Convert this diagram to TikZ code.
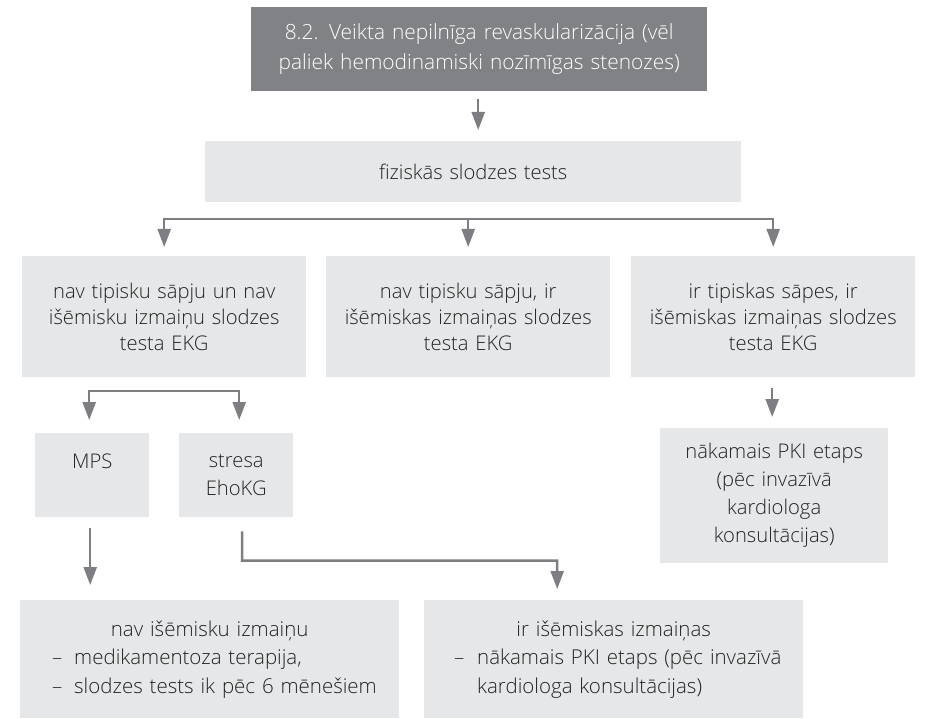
\documentclass[tikz,border=0pt]{standalone}
\usepackage{fontspec}
\IfFontExistsTF{Open Sans Light}
  {\setmainfont{Open Sans Light}\definecolor{txt}{RGB}{35,35,35}}
  {\setmainfont{Open Sans}\definecolor{txt}{RGB}{72,72,72}}
\usetikzlibrary{arrows.meta,calc}
\definecolor{darkbox}{RGB}{128,130,133}
\definecolor{lightbox}{RGB}{230,231,232}
\definecolor{arrowgray}{RGB}{125,126,130}
\begin{document}
\begin{tikzpicture}[x=1pt,y=-1pt,
  box/.style={fill=lightbox, draw=none, inner sep=0pt, anchor=north west,
    align=center, text=txt, font=\fontsize{20.2}{26}\selectfont},
  dbox/.style={box, fill=darkbox, text=white, font=\fontsize{20.9}{30}\selectfont},
  arr/.style={draw=arrowgray, line width=2.5pt, line join=miter,
    -{Triangle[length=18pt,width=13pt]}}]
\useasboundingbox (0,0) rectangle (928,719);

\node[dbox, minimum width=456pt, minimum height=84pt, text width=456pt] (top) at (251,7)
  {8.2. Veikta nepilnīga revaskularizācija (vēl\\paliek hemodinamiski nozīmīgas stenozes)};
\node[box, minimum width=536pt, minimum height=61pt, text width=536pt] (fiz) at (205,141)
  {fiziskās slodzes tests};

\node[box, minimum width=284pt, minimum height=121pt, text width=284pt] (nA) at (22,256)
  {nav tipisku sāpju un nav\\išēmisku izmaiņu slodzes\\testa EKG};
\node[box, minimum width=284pt, minimum height=121pt, text width=284pt] (nB) at (326,256)
  {nav tipisku sāpju, ir\\išēmiskas izmaiņas slodzes\\testa EKG};
\node[box, minimum width=284pt, minimum height=121pt, text width=284pt] (nC) at (631,256)
  {ir tipiskas sāpes, ir\\išēmiskas izmaiņas slodzes\\testa EKG};

\node[box, font=\fontsize{20.2}{28}\selectfont, minimum width=114pt, minimum height=84pt, text width=114pt] (mps) at (35,433)
  {MPS\\\mbox{}};
\node[box, font=\fontsize{20.2}{28}\selectfont, minimum width=114pt, minimum height=84pt, text width=114pt] (stresa) at (179,433)
  {stresa\\EhoKG};
\node[box, font=\fontsize{20.2}{28}\selectfont, minimum width=228pt, minimum height=135pt, text width=228pt] (nak) at (660,428)
  {nākamais PKI etaps\\(pēc invazīvā\\kardiologa\\konsultācijas)};

\node[box, font=\fontsize{20.5}{28.5}\selectfont, align=left, minimum width=379pt, minimum height=118pt, text width=379pt] (nl) at (20,600)
  {\noindent\makebox[379pt][c]{nav išēmisku izmaiņu}\\
   \hspace*{32pt}\makebox[22pt][l]{–}medikamentoza terapija,\\
   \hspace*{32pt}\makebox[22pt][l]{–}slodzes tests ik pēc 6 mēnešiem};
\node[box, font=\fontsize{20.5}{28.5}\selectfont, align=left, minimum width=379pt, minimum height=118pt, text width=379pt] (nr) at (424,600)
  {\noindent\makebox[379pt][c]{ir išēmiskas izmaiņas}\\
   \hspace*{30pt}\makebox[23pt][l]{–}nākamais PKI etaps (pēc invazīvā\\
   \hspace*{53pt}kardiologa konsultācijas)};

% connectors
\draw[arr, shorten <=8pt, shorten >=11pt] ([xshift=-1pt]top.south) -- ([xshift=-1pt]top.south |- fiz.north);

\coordinate (j1) at (473,219);
\draw[arr, shorten >=9pt] (j1) -| (nA.north);
\draw[arr, shorten >=9pt] (j1) -| (nC.north);
\draw[arr, shorten >=9pt] (j1 -| nB.north) -- (nB.north);

\coordinate (j2) at (164,391);
\draw[arr, shorten >=13pt] (j2) -| ([xshift=-3pt]mps.north);
\draw[arr, shorten >=13pt] (j2) -| ([xshift=3pt]stresa.north);

\draw[arr, shorten <=11pt, shorten >=11pt] ([xshift=-1pt]nC.south) -- ([xshift=-1pt]nC.south |- nak.north);

\draw[arr, shorten <=11pt, shorten >=15pt] ([xshift=-2pt]mps.south) -- ([xshift=-2pt]mps.south |- nl.north);

\coordinate (lc) at (242,560.5);
\draw[arr, shorten <=14pt, shorten >=11pt] ([xshift=6pt]stresa.south) -- (lc) -| ([xshift=-56.5pt]nr.north);
\end{tikzpicture}
\end{document}
